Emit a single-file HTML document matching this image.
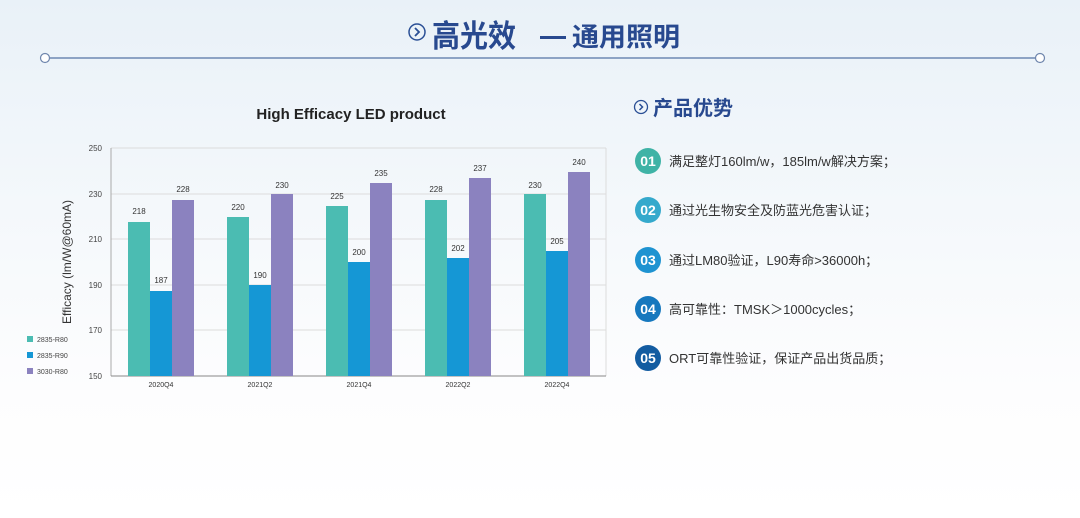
<!DOCTYPE html>
<html><head><meta charset="utf-8"><style>
body{margin:0;width:1080px;height:518px;overflow:hidden;font-family:"Liberation Sans","Noto Sans CJK SC",sans-serif;background:linear-gradient(180deg,#e9f1f8 0%,#f4f8fb 40%,#fdfdfe 75%,#ffffff 100%);position:relative}
</style></head><body>
<svg width="1080" height="518" style="position:absolute;left:0;top:0">
<line x1="49" y1="58" x2="1036" y2="58" stroke="#8da3c4" stroke-width="2"/>
<circle cx="45" cy="58" r="4.5" fill="#fff" stroke="#6f86ad" stroke-width="1.2"/>
<circle cx="1040" cy="58" r="4.5" fill="#fff" stroke="#6f86ad" stroke-width="1.2"/>
<circle cx="417" cy="32" r="8" fill="none" stroke="#2a4f95" stroke-width="1.5"/>
<path d="M415 28 L419 32 L415 36" fill="none" stroke="#2a4f95" stroke-width="1.8"/>
<text x="432" y="47" font-size="31" font-weight="bold" fill="#28498f" font-family="Noto Sans CJK SC,sans-serif" textLength="84" lengthAdjust="spacingAndGlyphs">高光效</text>
<rect x="540" y="36" width="26" height="3" fill="#28498f"/>
<text x="572" y="46" font-size="26" font-weight="bold" fill="#28498f" font-family="Noto Sans CJK SC,sans-serif" textLength="108" lengthAdjust="spacingAndGlyphs">通用照明</text>
<text x="351" y="119" font-size="15" font-weight="bold" fill="#222" text-anchor="middle">High Efficacy LED product</text>
<g stroke="#dcdcdc" stroke-width="1">
<line x1="111" y1="148" x2="606" y2="148"/><line x1="111" y1="194" x2="606" y2="194"/><line x1="111" y1="239" x2="606" y2="239"/><line x1="111" y1="285" x2="606" y2="285"/><line x1="111" y1="330" x2="606" y2="330"/>
<line x1="606" y1="148" x2="606" y2="376"/>
</g>
<line x1="111" y1="148" x2="111" y2="376" stroke="#aaa"/>
<line x1="111" y1="376" x2="606" y2="376" stroke="#888"/>
<g font-size="8" fill="#444" text-anchor="end">
<text x="102" y="151">250</text><text x="102" y="197">230</text><text x="102" y="242">210</text><text x="102" y="288">190</text><text x="102" y="333">170</text><text x="102" y="379">150</text>
</g>
<text transform="translate(71,262) rotate(-90)" font-size="12" fill="#333" text-anchor="middle">Efficacy (lm/W@60mA)</text>
<g font-size="8" fill="#333" text-anchor="middle">
<rect x="128" y="222" width="22" height="154" fill="#4bbcb2"/><rect x="150" y="291" width="22" height="85" fill="#1597d5"/><rect x="172" y="200" width="22" height="176" fill="#8b82bf"/>
<text x="139" y="214">218</text><text x="161" y="283">187</text><text x="183" y="192">228</text>
<rect x="227" y="217" width="22" height="159" fill="#4bbcb2"/><rect x="249" y="285" width="22" height="91" fill="#1597d5"/><rect x="271" y="194" width="22" height="182" fill="#8b82bf"/>
<text x="238" y="210">220</text><text x="260" y="278">190</text><text x="282" y="188">230</text>
<rect x="326" y="206" width="22" height="170" fill="#4bbcb2"/><rect x="348" y="262" width="22" height="114" fill="#1597d5"/><rect x="370" y="183" width="22" height="193" fill="#8b82bf"/>
<text x="337" y="199">225</text><text x="359" y="255">200</text><text x="381" y="176">235</text>
<rect x="425" y="200" width="22" height="176" fill="#4bbcb2"/><rect x="447" y="258" width="22" height="118" fill="#1597d5"/><rect x="469" y="178" width="22" height="198" fill="#8b82bf"/>
<text x="436" y="192">228</text><text x="458" y="251">202</text><text x="480" y="171">237</text>
<rect x="524" y="194" width="22" height="182" fill="#4bbcb2"/><rect x="546" y="251" width="22" height="125" fill="#1597d5"/><rect x="568" y="172" width="22" height="204" fill="#8b82bf"/>
<text x="535" y="188">230</text><text x="557" y="244">205</text><text x="579" y="165">240</text>
<text x="161" y="387" font-size="7">2020Q4</text><text x="260" y="387" font-size="7">2021Q2</text><text x="359" y="387" font-size="7">2021Q4</text><text x="458" y="387" font-size="7">2022Q2</text><text x="557" y="387" font-size="7">2022Q4</text>
</g>
<g font-size="7" fill="#444">
<rect x="27" y="336" width="6" height="6" fill="#4bbcb2"/><text x="37" y="342">2835-R80</text>
<rect x="27" y="352" width="6" height="6" fill="#1597d5"/><text x="37" y="358">2835-R90</text>
<rect x="27" y="368" width="6" height="6" fill="#8b82bf"/><text x="37" y="374">3030-R80</text>
</g>
<circle cx="641" cy="107" r="6.5" fill="none" stroke="#2a4f95" stroke-width="1.3"/>
<path d="M639.5 104 L642.5 107 L639.5 110" fill="none" stroke="#2a4f95" stroke-width="1.5"/>
<text x="653" y="115" font-size="20" font-weight="bold" fill="#28498f" font-family="Noto Sans CJK SC,sans-serif">产品优势</text>
<g font-size="14" font-weight="bold" fill="#fff" text-anchor="middle">
<circle cx="648" cy="161" r="13" fill="#3fb3a6"/><text x="648" y="166">01</text>
<circle cx="648" cy="210" r="13" fill="#35a9cc"/><text x="648" y="215">02</text>
<circle cx="648" cy="260" r="13" fill="#1e93d1"/><text x="648" y="265">03</text>
<circle cx="648" cy="309" r="13" fill="#1678be"/><text x="648" y="314">04</text>
<circle cx="648" cy="358" r="13" fill="#135ca1"/><text x="648" y="363">05</text>
</g>
<g font-size="13" fill="#333">
<text x="669" y="166">满足整灯160lm/w，185lm/w解决方案；</text>
<text x="669" y="215">通过光生物安全及防蓝光危害认证；</text>
<text x="669" y="265">通过LM80验证，L90寿命&gt;36000h；</text>
<text x="669" y="314">高可靠性：TMSK＞1000cycles；</text>
<text x="669" y="363">ORT可靠性验证，保证产品出货品质；</text>
</g>
</svg>
</body></html>
